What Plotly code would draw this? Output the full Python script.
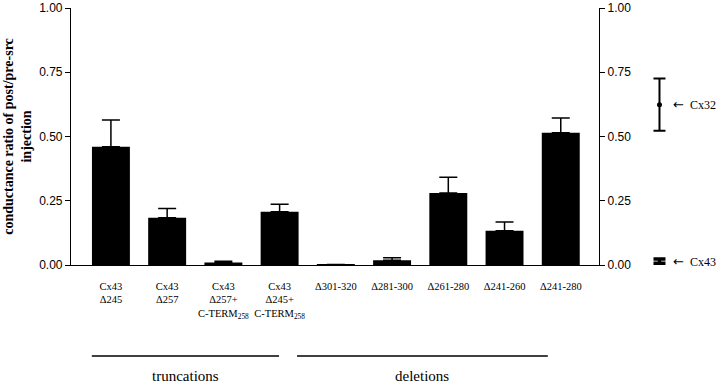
import plotly.graph_objects as go

categories = [
    "Cx43<br>Δ245",
    "Cx43<br>Δ257",
    "Cx43<br>Δ257+<br>C-TERM<sub>258</sub>",
    "Cx43<br>Δ245+<br>C-TERM<sub>258</sub>",
    "Δ301-320",
    "Δ281-300",
    "Δ261-280",
    "Δ241-260",
    "Δ241-280",
]
values = [0.46, 0.184, 0.010, 0.207, 0.002, 0.018, 0.280, 0.133, 0.515]
errors = [0.104, 0.036, 0.005, 0.029, 0.0, 0.010, 0.061, 0.034, 0.057]

ref_names = ["Cx32", "Cx43"]
ref_values = [0.624, 0.015]
ref_errors = [0.102, 0.008]

group_names = ["truncations", "deletions"]
group_spans = [(-0.34, 2.99), (3.31, 7.77)]

y_ticks = [0.0, 0.25, 0.5, 0.75, 1.0]
y_ticklabels = ["0.00", "0.25", "0.50", "0.75", "1.00"]

W, H = 720, 384
ml, mr, mt, mb = 71, 10, 8, 119
pw = W - ml - mr
main_frac = 528 / pw

xidx = list(range(len(categories)))

fig = go.Figure()
fig.add_trace(go.Bar(
    x=xidx, y=values, width=0.675,
    marker=dict(color="black", line=dict(width=0)),
    error_y=dict(type="data", array=errors, arrayminus=[0] * len(errors), symmetric=False,
                 color="black", thickness=1.5, width=9),
    xaxis="x", yaxis="y", showlegend=False,
))

ref_styles = [dict(thickness=2, width=6), dict(thickness=3.5, width=6)]
for name, v, e, st in zip(ref_names, ref_values, ref_errors, ref_styles):
    fig.add_trace(go.Scatter(
        x=[0.45], y=[v], mode="markers",
        marker=dict(color="black", size=5 if name == "Cx32" else 1),
        error_y=dict(type="data", array=[e], color="black", thickness=st["thickness"], width=st["width"]),
        xaxis="x2", yaxis="y", showlegend=False, cliponaxis=False,
    ))
    fig.add_annotation(x=0.58, y=v, xref="x2", yref="y",
                       text="<span style='font-family:DejaVu Sans;font-size:13px'>←</span>\u00a0\u00a0" + name,
                       showarrow=False, xanchor="left", yanchor="middle",
                       font=dict(family="Liberation Serif", size=12, color="black"))

for name, (a, b) in zip(group_names, group_spans):
    fig.add_shape(type="line", xref="x", yref="paper", x0=a, x1=b, y0=-0.354, y1=-0.354,
                  line=dict(color="black", width=1.5))
    fig.add_annotation(x=(a + b) / 2, y=-0.432, xref="x", yref="paper", text=name, showarrow=False,
                       xanchor="center", yanchor="middle",
                       font=dict(family="Liberation Serif", size=15, color="black"))

fig.update_layout(
    width=W, height=H,
    margin=dict(l=ml, r=mr, t=mt, b=mb, autoexpand=False),
    plot_bgcolor="white", paper_bgcolor="white",
    xaxis=dict(domain=[0, main_frac], range=[-0.71, 8.68], tickmode="array", tickvals=xidx,
               ticktext=categories, showline=True, linecolor="black", linewidth=1.2,
               ticks="", showgrid=False, zeroline=False, tickangle=0, automargin=False,
               ticklabelstandoff=11,
               tickfont=dict(family="Liberation Serif", size=10.5, color="black")),
    xaxis2=dict(domain=[main_frac + 0.03, 1.0], range=[0, 1], visible=False, anchor="y",
                automargin=False),
    yaxis=dict(range=[0, 1.0], tickmode="array", tickvals=y_ticks, ticktext=y_ticklabels,
               showline=True, linecolor="black", linewidth=1.2, ticks="outside", ticklen=5,
               tickcolor="black", showgrid=False, zeroline=False, automargin=False,
               tickfont=dict(family="Liberation Sans", size=12, color="black"),
               title=dict(text="<b>conductance ratio of post/pre-src<br>injection</b>",
                          font=dict(family="Liberation Serif", size=14, color="black"), standoff=4)),
    yaxis2=dict(range=[0, 1.0], overlaying="y", side="right", anchor="x", tickmode="array",
                tickvals=y_ticks, ticktext=y_ticklabels, showline=True, linecolor="black",
                linewidth=1.2, ticks="outside", ticklen=5, tickcolor="black", showgrid=False,
                zeroline=False, automargin=False,
                tickfont=dict(family="Liberation Sans", size=12, color="black")),
)
# invisible trace so the right axis is drawn
fig.add_trace(go.Scatter(x=[0], y=[0], xaxis="x", yaxis="y2", mode="markers",
                         marker=dict(opacity=0), showlegend=False, hoverinfo="skip"))

fig.write_html("out.html", config={"displayModeBar": False},
               post_script="document.body.style.margin='0';")
